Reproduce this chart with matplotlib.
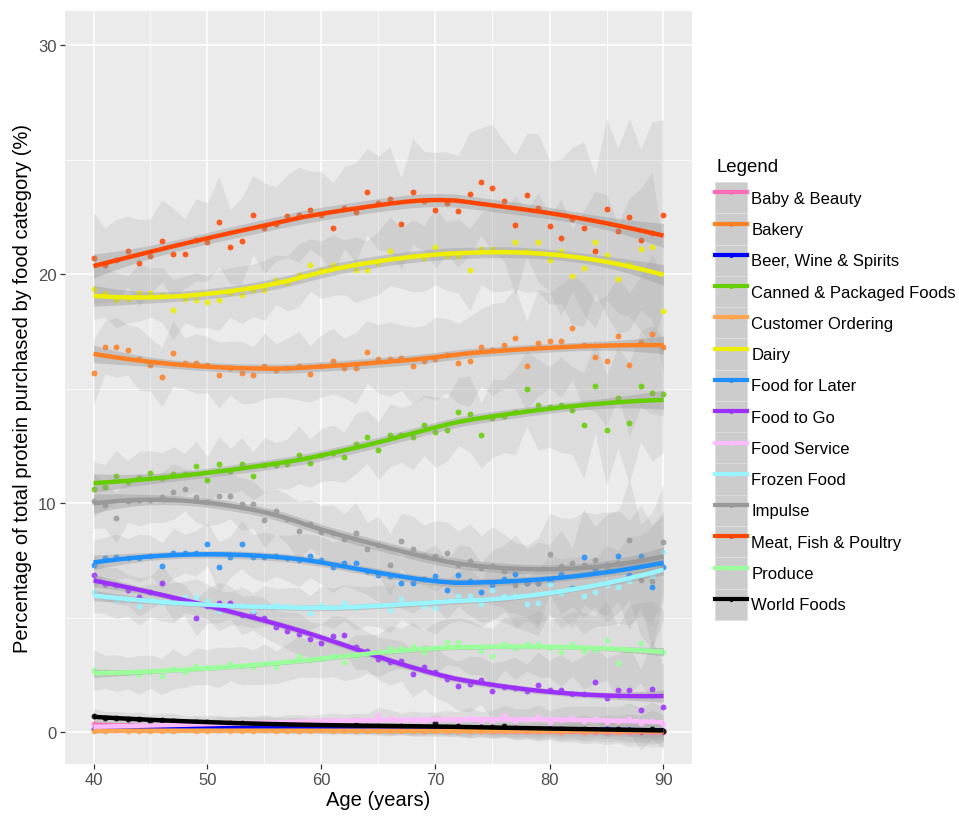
import numpy as np
import matplotlib.pyplot as plt
from matplotlib.patches import Patch
from matplotlib.lines import Line2D

plt.rcParams['font.family'] = ['Liberation Sans', 'DejaVu Sans']

ages = list(range(40, 91))

categories = ['Baby & Beauty', 'Bakery', 'Beer, Wine & Spirits', 'Canned & Packaged Foods',
              'Customer Ordering', 'Dairy', 'Food for Later', 'Food to Go', 'Food Service',
              'Frozen Food', 'Impulse', 'Meat, Fish & Poultry', 'Produce', 'World Foods']
colors = ['#ff6eb4', '#ff7f24', '#0000ff', '#66cd00', '#ffa54f', '#eeee00', '#1e90ff',
          '#9b30ff', '#ffbbff', '#98f5ff', '#999999', '#ff4500', '#9aff9a', '#000000']

# % of protein per age (40..90), one list per food category
baby = [0.35, 0.30, 0.25, 0.30, 0.25, 0.22, 0.25, 0.20, 0.22, 0.20,
        0.18, 0.20, 0.18, 0.16, 0.18, 0.15, 0.15, 0.14, 0.12, 0.14,
        0.12, 0.10, 0.12, 0.10, 0.10, 0.08, 0.08, 0.10, 0.08, 0.06,
        0.08, 0.06, 0.05, 0.06, 0.05, 0.04, 0.05, 0.03, 0.04, 0.02,
        0.03, 0.00, 0.02, 0.00, 0.00, 0.00, 0.00, 0.00, 0.01, 0.00,
        0.00]
bakery = [15.7, 16.8, 16.8, 16.7, 16.3, 16.05, 15.5, 16.55, 16.1, 16.1,
          16.05, 15.6, 15.9, 15.7, 15.6, 16.0, 15.8, 15.9, 16.0, 15.65,
          16.0, 16.2, 15.9, 15.9, 16.6, 16.3, 16.3, 16.35, 16.0, 16.2,
          16.3, 16.45, 16.1, 16.2, 16.8, 16.7, 16.9, 17.2, 16.0, 17.0,
          17.1, 17.1, 17.65, 16.9, 16.4, 16.2, 17.3, 16.05, 17.05, 17.4,
          16.8]
beer = [0.15, 0.20, 0.18, 0.25, 0.20, 0.18, 0.20, 0.18, 0.15, 0.18,
        0.20, 0.15, 0.22, 0.18, 0.20, 0.18, 0.15, 0.18, 0.20, 0.20,
        0.15, 0.18, 0.16, 0.18, 0.15, 0.14, 0.15, 0.12, 0.15, 0.14,
        0.12, 0.15, 0.13, 0.12, 0.20, 0.12, 0.10, 0.12, 0.10, 0.10,
        0.12, 0.10, 0.10, 0.08, 0.10, 0.15, 0.08, 0.08, 0.06, 0.08,
        0.06]
canned = [10.6, 10.7, 11.2, 10.9, 11.1, 11.3, 11.1, 11.25, 11.25, 11.6,
          11.0, 11.7, 11.4, 11.7, 11.2, 11.65, 11.65, 11.7, 12.1, 11.75,
          12.1, 12.2, 12.0, 12.6, 12.9, 12.3, 12.96, 12.98, 12.9, 13.4,
          13.1, 13.2, 14.0, 13.9, 12.96, 13.7, 13.8, 14.0, 15.0, 14.3,
          14.2, 14.3, 14.05, 13.4, 15.1, 13.2, 14.6, 13.5, 15.1, 14.8,
          14.75]
customer = [0.06, 0.05, 0.07, 0.05, 0.06, 0.04, 0.06, 0.05, 0.07, 0.05,
            0.06, 0.07, 0.05, 0.06, 0.05, 0.07, 0.06, 0.05, 0.06, 0.05,
            0.07, 0.06, 0.05, 0.04, 0.06, 0.05, 0.06, 0.05, 0.04, 0.06,
            0.05, 0.04, 0.05, 0.06, 0.04, 0.05, 0.04, 0.06, 0.04, 0.03,
            0.05, 0.00, 0.04, 0.00, 0.03, 0.05, 0.00, 0.03, 0.04, 0.02,
            0.03]
dairy = [19.35, 19.2, 18.86, 18.9, 19.2, 19.2, 19.1, 18.45, 18.9, 18.86,
         18.8, 18.86, 19.2, 19.1, 19.3, 19.3, 19.76, 19.6, 19.95, 20.4,
         20.2, 20.4, 20.3, 20.2, 20.2, 20.5, 21.0, 20.7, 20.8, 20.7,
         21.2, 20.8, 20.8, 20.2, 21.1, 21.1, 21.0, 21.4, 21.0, 21.4,
         20.6, 21.0, 19.9, 20.25, 21.4, 20.85, 19.8, 20.45, 21.1, 21.2,
         18.4]
food_later = [7.3, 7.6, 7.65, 7.6, 7.6, 7.7, 7.25, 7.82, 7.8, 7.8,
              8.2, 7.2, 7.65, 8.2, 7.65, 7.65, 7.7, 7.6, 7.5, 7.7,
              7.5, 7.2, 7.4, 7.4, 7.05, 6.85, 6.8, 6.5, 6.5, 6.7,
              6.8, 6.2, 6.85, 6.6, 6.1, 6.4, 6.7, 6.9, 6.5, 6.5,
              6.6, 6.9, 6.3, 7.65, 7.1, 7.3, 7.7, 6.85, 7.7, 6.35,
              7.2]
food_go = [6.85, 6.45, 6.4, 6.2, 5.9, 6.1, 6.5, 5.75, 5.75, 5.0,
           5.5, 5.65, 5.65, 5.1, 5.2, 5.0, 4.6, 4.43, 4.3, 4.05,
           3.9, 4.2, 4.25, 3.7, 3.55, 3.2, 3.05, 3.1, 2.55, 2.85,
           2.6, 2.3, 2.0, 2.1, 2.25, 1.77, 1.95, 1.9, 1.77, 2.05,
           1.85, 1.85, 1.66, 1.66, 2.2, 1.5, 1.83, 1.83, 0.97, 1.88,
           1.1]
service = [0.25, 0.22, 0.28, 0.25, 0.30, 0.28, 0.25, 0.30, 0.28, 0.32,
           0.30, 0.35, 0.38, 0.36, 0.40, 0.42, 0.40, 0.45, 0.42, 0.44,
           0.45, 0.50, 0.48, 0.45, 0.50, 0.72, 0.60, 0.48, 0.52, 0.50,
           0.45, 0.55, 0.48, 0.62, 0.50, 0.48, 0.75, 0.50, 0.55, 0.65,
           0.45, 0.52, 0.60, 0.50, 0.58, 0.45, 0.50, 0.55, 0.40, 0.50,
           0.35]
frozen = [6.1, 5.9, 5.75, 5.75, 5.5, 5.75, 5.65, 5.65, 5.9, 5.9,
          5.7, 5.3, 5.4, 5.5, 5.3, 5.5, 5.55, 5.5, 5.4, 5.2,
          5.55, 5.4, 5.65, 5.4, 5.5, 5.5, 5.33, 5.8, 5.65, 5.5,
          5.4, 5.7, 5.95, 5.95, 5.6, 6.2, 5.95, 5.95, 5.6, 5.65,
          6.45, 6.05, 6.25, 5.95, 6.1, 6.4, 6.35, 6.6, 6.85, 6.8,
          7.85]
impulse = [10.1, 9.9, 9.35, 10.1, 10.15, 10.15, 10.25, 10.5, 10.6, 10.25,
           10.05, 10.3, 10.3, 9.95, 9.95, 9.25, 9.65, 9.3, 8.8, 9.1,
           8.75, 8.7, 8.45, 8.7, 8.0, 8.15, 7.3, 8.35, 8.0, 7.7,
           7.7, 7.8, 7.3, 7.45, 7.15, 7.25, 7.05, 6.4, 6.5, 6.5,
           7.78, 7.25, 7.4, 7.3, 7.5, 7.2, 7.4, 8.4, 6.65, 6.6,
           8.3]
meat = [20.7, 20.4, 20.6, 21.0, 20.5, 20.8, 21.45, 20.9, 20.9, 21.5,
        21.4, 22.3, 21.2, 21.45, 22.6, 22.0, 22.2, 22.55, 22.6, 22.8,
        22.6, 22.0, 22.9, 22.7, 23.6, 23.1, 23.3, 22.2, 23.6, 23.2,
        22.8, 23.1, 22.75, 23.5, 24.05, 23.75, 23.2, 22.15, 23.45, 22.9,
        22.1, 21.6, 22.4, 22.0, 21.0, 22.85, 21.9, 22.5, 21.5, 21.8,
        22.6]
produce = [2.7, 2.63, 2.57, 2.57, 2.5, 2.63, 2.43, 2.75, 2.63, 2.87,
           2.83, 2.83, 2.97, 2.9, 2.83, 2.97, 2.83, 3.05, 3.3, 3.15,
           3.2, 3.3, 3.05, 3.3, 3.4, 3.35, 3.66, 3.66, 3.75, 3.5,
           3.66, 3.95, 3.92, 3.7, 3.55, 3.3, 3.85, 3.66, 3.85, 3.85,
           3.66, 3.5, 3.85, 3.55, 3.6, 4.02, 3.0, 3.6, 3.9, 3.55,
           3.5]
world = [0.71, 0.62, 0.60, 0.58, 0.55, 0.50, 0.52, 0.48, 0.45, 0.42,
         0.44, 0.40, 0.38, 0.40, 0.36, 0.35, 0.38, 0.33, 0.30, 0.32,
         0.30, 0.30, 0.28, 0.32, 0.25, 0.27, 0.22, 0.25, 0.22, 0.20,
         0.38, 0.20, 0.25, 0.18, 0.20, 0.20, 0.25, 0.16, 0.15, 0.14,
         0.15, 0.12, 0.10, 0.12, 0.08, 0.10, 0.12, 0.08, 0.06, 0.15,
         0.05]

series = [baby, bakery, beer, canned, customer, dairy, food_later, food_go,
          service, frozen, impulse, meat, produce, world]

# spread of the raw data around each age mean (relative, per age) and per category
spread_age = [1.10, 0.90, 1.00, 0.85, 1.05, 0.90, 1.00, 1.10, 0.85, 1.00,
              0.95, 1.10, 0.90, 1.05, 0.95, 1.10, 0.90, 1.00, 1.15, 0.95,
              1.05, 1.10, 1.00, 1.20, 1.05, 1.15, 1.25, 1.10, 1.30, 1.20,
              1.40, 1.25, 1.35, 1.50, 1.30, 1.55, 1.45, 1.70, 1.50, 1.80,
              1.60, 1.90, 1.75, 2.10, 1.85, 2.20, 2.00, 2.40, 2.20, 2.70,
              2.30]
spread_cat = [0.2, 1.3, 0.2, 1.1, 0.1, 1.2, 1.0, 0.8, 0.3, 0.8, 1.1, 1.8, 0.8, 0.3]


# loess (local quadratic, tricube weights, span .75) like geom_smooth
def loess_matrix(x, xs, span=0.75):
    n = len(x)
    q = int(np.floor(n * span))
    L = np.zeros((len(xs), n))
    for i, x0 in enumerate(xs):
        d = np.abs(x - x0)
        h = np.sort(d)[q - 1]
        w = np.clip(1 - (d / h) ** 3, 0, None) ** 3
        X = np.vstack([np.ones(n), x - x0, (x - x0) ** 2]).T
        XtW = X.T * w
        L[i] = np.linalg.solve(XtW @ X, XtW)[0]
    return L


x = np.array(ages, dtype=float)
xs = np.linspace(x.min(), x.max(), 80)
L_fit = loess_matrix(x, x)
L_new = loess_matrix(x, xs)
R = np.eye(len(x)) - L_fit
delta1 = np.trace(R.T @ R)

fig = plt.figure(figsize=(9.59, 8.2), dpi=100)
ax = fig.add_axes([65 / 959, 55 / 820, 627 / 959, 753 / 820])
ax.set_facecolor('#ebebeb')
ax.set_axisbelow(True)

sw = np.array(spread_age)
for vals, s in zip(series, spread_cat):
    y = np.array(vals)
    ax.fill_between(x, y - s * sw, y + s * sw, color='#999999', alpha=0.18, lw=0)

for vals, c in zip(series, colors):
    ax.scatter(x, vals, s=18, color=c, alpha=0.85, lw=0, zorder=3)

for vals, c in zip(series, colors):
    y = np.array(vals)
    fit = L_new @ y
    sigma = np.sqrt(np.sum((R @ y) ** 2) / delta1)
    se = sigma * np.sqrt(np.sum(L_new ** 2, axis=1))
    ax.fill_between(xs, fit - 2.0 * se, fit + 2.0 * se, color='#999999', alpha=0.4, lw=0, zorder=4)
    ax.plot(xs, fit, color=c, lw=3.2, zorder=5, solid_capstyle='butt')

ax.set_xlim(37.5, 92.5)
ax.set_ylim(-1.4, 31.5)
ax.set_xticks([40, 50, 60, 70, 80, 90])
ax.set_xticks([45, 55, 65, 75, 85], minor=True)
ax.set_yticks([0, 10, 20, 30])
ax.set_yticks([5, 15, 25], minor=True)
ax.grid(which='major', color='white', lw=1.1)
ax.grid(which='minor', color='white', lw=0.55)
for sp in ax.spines.values():
    sp.set_visible(False)
ax.tick_params(which='major', length=3.5, width=0.9, color='#333333', labelsize=12,
               labelcolor='#4d4d4d', pad=2.5)
ax.tick_params(which='minor', length=0)
ax.set_xlabel('Age (years)', fontsize=14.5, labelpad=2)
ax.set_ylabel('Percentage of total protein purchased by food category (%)', fontsize=14.5, labelpad=4)

# legend: title as own text, keys with grey background like ggplot
fig.text(716 / 959, 1 - 168 / 820, 'Legend', fontsize=13.4, va='center', ha='left')
handles = []
for c in colors:
    handles.append((Patch(facecolor='#cccccc', edgecolor='#dedede', lw=0.6),
                    Line2D([], [], color=c, lw=3, marker='o', ms=2.5)))
leg = fig.legend(handles, categories, loc='upper left', bbox_to_anchor=(715 / 959, 1 - 183 / 820),
                 frameon=False, fontsize=12,
                 handlelength=1.92, handleheight=2.51, labelspacing=0, borderpad=0,
                 handletextpad=0.25, borderaxespad=0)

fig.savefig('out.png', dpi=100)
